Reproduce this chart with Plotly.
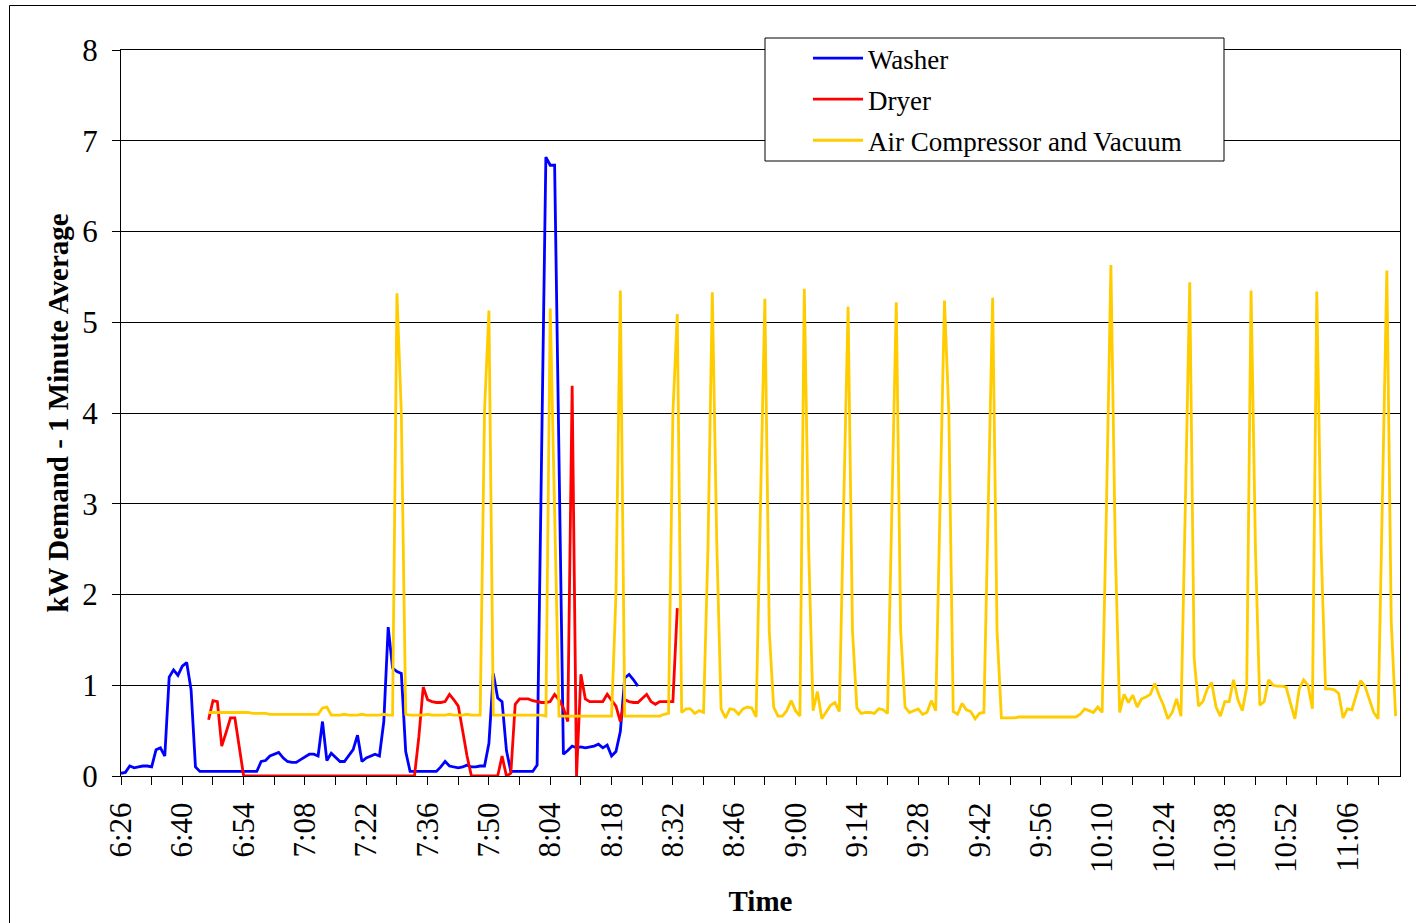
import plotly.graph_objects as go

# ---------------- data (kW, one value per minute) ----------------
START_TIME = "6:26"          # first minute on the axis (index 0)
N_MINUTES = 292              # minutes shown on the axis

TICK_LABELS = ["6:26", "6:40", "6:54", "7:08", "7:22", "7:36", "7:50", "8:04",
               "8:18", "8:32", "8:46", "9:00", "9:14", "9:28", "9:42", "9:56",
               "10:10", "10:24", "10:38", "10:52", "11:06"]

WASHER_START = 0             # minute index of first washer reading (6:26)
WASHER = [0.03, 0.04, 0.11, 0.09, 0.10, 0.11, 0.11, 0.10, 0.29, 0.31,
          0.22, 1.09, 1.17, 1.11, 1.21, 1.25, 0.95, 0.10, 0.05, 0.05,
          0.05, 0.05, 0.05, 0.05, 0.05, 0.05, 0.05, 0.05, 0.05, 0.05,
          0.05, 0.05, 0.16, 0.17, 0.22, 0.24, 0.26, 0.20, 0.16, 0.15,
          0.15, 0.18, 0.21, 0.24, 0.24, 0.22, 0.60, 0.17, 0.25, 0.21,
          0.16, 0.16, 0.22, 0.29, 0.45, 0.16, 0.20, 0.22, 0.24, 0.22,
          0.60, 1.64, 1.19, 1.15, 1.13, 0.27, 0.05, 0.05, 0.05, 0.05,
          0.05, 0.05, 0.05, 0.10, 0.16, 0.11, 0.10, 0.09, 0.10, 0.12,
          0.10, 0.10, 0.11, 0.11, 0.36, 1.13, 0.86, 0.82, 0.28, 0.05,
          0.05, 0.05, 0.05, 0.05, 0.05, 0.12, 3.50, 6.82, 6.73, 6.73,
          3.50, 0.24, 0.28, 0.33, 0.31, 0.32, 0.31, 0.32, 0.33, 0.35,
          0.31, 0.34, 0.22, 0.27, 0.49, 1.08, 1.12, 1.06, 0.99]

DRYER_START = 20             # 6:46
DRYER = [0.62, 0.83, 0.82, 0.33, 0.48, 0.64, 0.64, 0.32, 0.00, 0.00,
         0.00, 0.00, 0.00, 0.00, 0.00, 0.00, 0.00, 0.00, 0.00, 0.00,
         0.00, 0.00, 0.00, 0.00, 0.00, 0.00, 0.00, 0.00, 0.00, 0.00,
         0.00, 0.00, 0.00, 0.00, 0.00, 0.00, 0.00, 0.00, 0.00, 0.00,
         0.00, 0.00, 0.00, 0.00, 0.00, 0.00, 0.00, 0.00, 0.43, 0.98,
         0.84, 0.82, 0.81, 0.81, 0.82, 0.90, 0.84, 0.77, 0.50, 0.22,
         0.00, 0.00, 0.00, 0.00, 0.00, 0.00, 0.00, 0.22, 0.00, 0.03,
         0.79, 0.85, 0.85, 0.85, 0.83, 0.82, 0.81, 0.81, 0.82, 0.90,
         0.84, 0.75, 0.60, 4.30, 0.00, 1.12, 0.85, 0.82, 0.82, 0.82,
         0.82, 0.90, 0.84, 0.77, 0.60, 0.84, 0.82, 0.81, 0.81, 0.85,
         0.90, 0.82, 0.79, 0.82, 0.82, 0.82, 0.82, 1.85]

AIR_START = 20               # 6:46
AIR = [0.70, 0.70, 0.70, 0.70, 0.70, 0.70, 0.70, 0.70, 0.70, 0.70,   # 20
       0.69, 0.69, 0.69, 0.69, 0.68, 0.68, 0.68, 0.68, 0.68, 0.68,   # 30
       0.68, 0.68, 0.68, 0.68, 0.68, 0.68, 0.75, 0.76, 0.67, 0.67,   # 40
       0.67, 0.68, 0.67, 0.67, 0.67, 0.68, 0.67, 0.67, 0.67, 0.67,   # 50
       0.68, 0.67, 0.67, 5.32, 4.00, 0.68, 0.67, 0.67, 0.67, 0.67,   # 60
       0.68, 0.67, 0.67, 0.67, 0.67, 0.68, 0.67, 0.67, 0.67, 0.68,   # 70
       0.67, 0.67, 0.67, 4.03, 5.13, 0.67, 0.67, 0.67, 0.67, 0.67,   # 80
       0.67, 0.67, 0.67, 0.67, 0.67, 0.67, 0.67, 0.66, 5.15, 2.90,   # 90
       0.66, 0.66, 0.66, 0.66, 0.66, 0.66, 0.66, 0.66, 0.66, 0.66,   # 100
       0.66, 0.66, 0.66, 2.00, 5.35, 0.66, 0.66, 0.66, 0.66, 0.66,   # 110
       0.66, 0.66, 0.66, 0.66, 0.68, 0.69, 4.00, 5.09, 0.70, 0.74,   # 120
       0.74, 0.69, 0.72, 0.70, 2.50, 5.33, 2.60, 0.74, 0.64, 0.74,   # 130
       0.73, 0.68, 0.74, 0.76, 0.75, 0.65, 3.00, 5.26, 1.60, 0.76,   # 140
       0.66, 0.66, 0.72, 0.83, 0.72, 0.66, 5.37, 2.50, 0.72, 0.93,   # 150
       0.63, 0.70, 0.78, 0.81, 0.71, 3.00, 5.17, 1.60, 0.75, 0.69,   # 160
       0.70, 0.70, 0.69, 0.74, 0.73, 0.69, 3.00, 5.22, 1.60, 0.76,   # 170
       0.70, 0.72, 0.74, 0.68, 0.70, 0.83, 0.72, 3.00, 5.24, 4.00,   # 180
       0.71, 0.68, 0.80, 0.73, 0.71, 0.63, 0.69, 0.70, 3.00, 5.27,   # 190
       1.60, 0.64, 0.64, 0.64, 0.64, 0.65, 0.65, 0.65, 0.65, 0.65,   # 200
       0.65, 0.65, 0.65, 0.65, 0.65, 0.65, 0.65, 0.65, 0.65, 0.68,   # 210
       0.74, 0.72, 0.70, 0.76, 0.70, 3.00, 5.63, 2.50, 0.70, 0.90,   # 220
       0.81, 0.89, 0.76, 0.85, 0.87, 0.90, 1.02, 0.89, 0.78, 0.63,   # 230
       0.70, 0.85, 0.66, 3.00, 5.44, 1.30, 0.77, 0.82, 0.96, 1.03,   # 240
       0.76, 0.66, 0.82, 0.82, 1.06, 0.84, 0.72, 0.98, 5.35, 2.50,   # 250
       0.78, 0.82, 1.06, 1.00, 0.99, 0.99, 0.98, 0.80, 0.63, 0.96,   # 260
       1.06, 1.00, 0.74, 5.34, 2.50, 0.96, 0.96, 0.95, 0.91, 0.64,   # 270
       0.74, 0.73, 0.88, 1.05, 0.99, 0.85, 0.70, 0.63, 3.00, 5.57,   # 280
       1.70, 0.66]                                                   # 290

SERIES = [("Washer", WASHER_START, WASHER, "#0000FF"),
          ("Dryer", DRYER_START, DRYER, "#FF0000"),
          ("Air Compressor and Vacuum", AIR_START, AIR, "#FFCC00")]

FONT = "Liberation Serif"

fig = go.Figure()
for i, (name, start, vals, color) in enumerate(SERIES):
    fig.add_trace(go.Scatter(
        x=list(range(start, start + len(vals))), y=vals, name=name,
        mode="lines", line=dict(color=color, width=2.8),
        legendgroup=f"g{i}"))

plot_l, plot_r, plot_t, plot_b = 121, 1400, 50, 776
W, H = 1416, 923
pw, ph = plot_r - plot_l, plot_b - plot_t


def px(x):
    return (x - plot_l) / pw


def py(y):
    return (plot_b - y) / ph


fig.update_layout(
    width=W, height=H,
    margin=dict(l=plot_l, r=W - plot_r, t=plot_t, b=H - plot_b, pad=0,
                autoexpand=False),
    paper_bgcolor="white", plot_bgcolor="white",
    font=dict(family=FONT, size=27, color="black"),
    showlegend=True,
    legend=dict(x=px(808), y=py(34), xanchor="left", yanchor="top",
                bgcolor="rgba(0,0,0,0)", borderwidth=0,
                font=dict(family=FONT, size=27, color="black"),
                tracegroupgap=3, itemwidth=50),
    xaxis=dict(range=[0, N_MINUTES], tickmode="array", automargin=False,
               tickvals=[14 * k for k in range(len(TICK_LABELS))],
               ticktext=TICK_LABELS, tickangle=-90,
               ticks="outside", ticklen=8, tickcolor="black", tickwidth=1,
               ticklabelstandoff=5,
               minor=dict(tickmode="array", tickvals=list(range(0, N_MINUTES, 7)),
                          ticks="outside", ticklen=8, tickcolor="black", tickwidth=1,
                          showgrid=False),
               showline=True, linecolor="black", linewidth=1, mirror=True,
               showgrid=False, zeroline=False,
               tickfont=dict(family=FONT, size=31, color="black"),
               title=dict(text="<b>Time</b>", font=dict(family=FONT, size=29),
                          standoff=18)),
    yaxis=dict(range=[0, 8], dtick=1, tick0=0, automargin=False,
               ticks="outside", ticklen=8, tickcolor="black", tickwidth=1,
               ticklabelstandoff=8,
               showline=True, linecolor="black", linewidth=1, mirror=True,
               showgrid=True, gridcolor="black", gridwidth=1, zeroline=False,
               tickfont=dict(family=FONT, size=31, color="black"),
               title=dict(text="<b>kW Demand - 1 Minute Average</b>",
                          font=dict(family=FONT, size=29), standoff=5)),
    shapes=[
        # outer chart border
        dict(type="rect", xref="paper", yref="paper",
             x0=px(9.5), x1=px(1500), y0=py(1000), y1=py(5.5),
             line=dict(color="black", width=1), fillcolor="rgba(0,0,0,0)",
             layer="below"),
        # legend box
        dict(type="rect", xref="paper", yref="paper",
             x0=px(765), x1=px(1224), y0=py(161), y1=py(38),
             line=dict(color="black", width=1), fillcolor="white",
             layer="above"),
    ],
)

fig.write_html("out.html", config={"displayModeBar": False},
               post_script="document.body.style.margin='0px';")
